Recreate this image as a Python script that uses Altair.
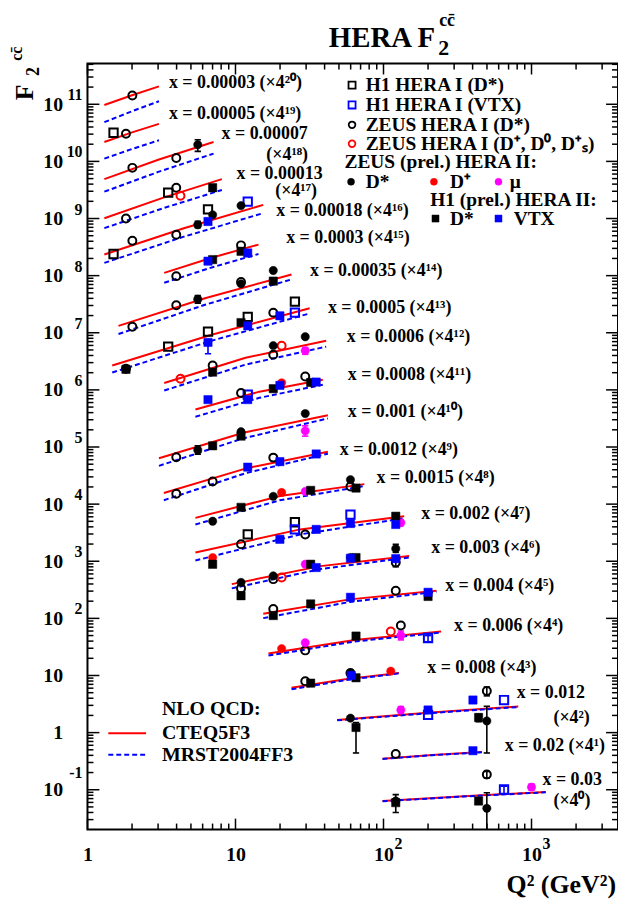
import altair as alt
import pandas as pd

# ---------------- data ----------------
bin_x = ["0.00003", "0.00005", "0.00007", "0.00013", "0.00018", "0.0003", "0.00035",
         "0.0005", "0.0006", "0.0008", "0.001", "0.0012", "0.0015", "0.002", "0.003",
         "0.004", "0.006", "0.008", "0.012", "0.02", "0.03"]
bin_pow = [20, 19, 18, 17, 16, 15, 14, 13, 12, 11, 10, 9, 8, 7, 6, 5, 4, 3, 2, 1, 0]

# NLO QCD curves (already multiplied by 4^i), three Q2 nodes per x bin
theory_q2 = [
    [1.30, 2.0, 3.04], [1.30, 2.0, 3.04], [1.30, 3.04, 7.11], [1.30, 3.26, 8.09],
    [1.30, 4.48, 15.4], [3.30, 6.9, 14.3], [1.62, 6.22, 23.9], [1.47, 6.8, 31.7],
    [3.30, 11.7, 41.0], [5.36, 14.5, 38.9], [3.04, 11.3, 42.1], [3.28, 11.8, 42.1],
    [5.36, 19.95, 74.2], [5.36, 27.3, 138], [9.44, 37.5, 149], [15.4, 59.3, 228],
    [16.7, 63.9, 245], [23.9, 55.2, 127], [48.6, 199, 814], [98.5, 213, 462],
    [98.5, 350, 1248]]
cteq_f = [
    [9.7e10, 1.44e11, 2.06e11], [2.18e10, 3.22e10, 4.54e10], [4.9e9, 1.08e10, 2.18e10],
    [1.01e9, 2.32e9, 4.9e9], [2.34e8, 6.76e8, 1.73e9], [1.12e8, 2.06e8, 3.49e8],
    [1.32e7, 4.03e7, 1.05e8], [2.67e6, 9.16e6, 2.69e7], [1.32e6, 3.65e6, 7.26e6],
    [4.53e5, 9.31e5, 1.50e6], [6.35e4, 1.78e5, 3.61e5], [1.57e4, 4.23e4, 8.28e4],
    [5.75e3, 1.39e4, 2.24e4], [1.42e3, 3.61e3, 6.14e3], [398, 822, 1236],
    [120, 215, 304], [24.2, 41.8, 58.9], [6.11, 8.59, 11.1], [1.67, 2.23, 2.86],
    [0.350, 0.406, 0.458], [0.0635, 0.0771, 0.0912]]
mrst_f = [
    [4.87e10, 7.55e10, 1.13e11], [1.12e10, 1.65e10, 2.34e10], [2.95e9, 6.61e9, 1.37e10],
    [6.78e8, 1.52e9, 3.16e9], [1.67e8, 4.82e8, 1.24e9], [7.5e7, 1.39e8, 2.39e8],
    [9.5e6, 3.09e7, 8.59e7], [2.01e6, 7.18e6, 2.18e7], [9.73e5, 2.77e6, 5.71e6],
    [3.38e5, 7.26e5, 1.23e6], [4.68e4, 1.42e5, 3.16e5], [1.17e4, 3.50e4, 7.64e4],
    [4.40e3, 1.17e4, 2.07e4], [1.03e3, 2.95e3, 5.66e3], [335, 731, 1164],
    [101, 194, 292], [22.3, 39.4, 56.6], [5.75, 8.26, 10.9], [1.64, 2.18, 2.80],
    [0.346, 0.402, 0.453], [0.0628, 0.0762, 0.0902]]

# measurements (F2cc x 4^i)
h1i_dstar_q2 = [1.5, 3.51, 1.5, 6.52, 3.51, 6.52, 12.1, 25.2, 12.1, 25.2]
h1i_dstar_f = [3.17e10, 2.83e9, 2.39e8, 1.45e9, 5.71e6, 1.05e7, 1.90e7, 3.50e7, 2.95e3, 4.82e3]

h1i_vtx_q2 = [12.1, 25.2, 12.1, 25.2, 59.8, 200, 200, 652, 652]
h1i_vtx_f = [1.98e9, 2.25e7, 8.26e5, 3.61e3, 6.56e3, 45.3, 2.04, 3.72, 0.101]

zeusi_dstar_q2 = [2.01, 1.82, 2.01, 3.98, 1.82, 3.98, 2.01, 3.98, 3.98, 10.9, 2.01, 3.98,
                  10.9, 1.82, 18.0, 7.01, 18.0, 10.9, 29.6, 3.98, 3.98, 7.01, 18.0, 59.8,
                  10.9, 29.6, 10.9, 18.0, 121, 18.0, 121, 29.6, 131, 29.6, 59.8, 499, 121, 499]
zeusi_dstar_f = [1.42e11, 3.04e10, 7.71e9, 1.15e10, 1.0e9, 3.46e9, 4.09e8, 5.21e8, 9.8e7,
                 3.39e8, 1.27e7, 3.03e7, 7.71e7, 2.34e6, 2.25e7, 2.67e6, 4.14e6, 8.79e5,
                 1.72e6, 6.62e4, 1.52e4, 2.49e4, 6.52e4, 2.04e4, 1.98e3, 2.95e3, 335, 486,
                 949, 146, 304, 27.5, 75.0, 7.96, 11.1, 5.33, 0.423, 0.1845]

zeusi_dpm_q2 = [4.25, 4.25, 20.5, 20.5, 112]
zeusi_dpm_f = [2.51e9, 1.57e6, 5.94e6, 521, 58.9]

zeusii_dstar_q2 = [5.56, 5.56, 7.01, 10.9, 5.56, 10.9, 18.0, 18.0, 29.6, 5.56, 10.9, 29.6,
                   7.01, 18.0, 59.8, 10.9, 18.0, 59.8, 121, 59.8, 59.8, 499, 121, 499]
zeusii_dstar_f = [1.96e10, 7.76e8, 1.16e9, 1.68e9, 3.86e7, 7.19e7, 1.23e8, 5.94e6, 8.51e6,
                  8.87e4, 1.85e5, 3.85e5, 5.02e3, 1.37e4, 2.67e4, 427, 555, 1.16e3, 1.66e3,
                  10.8, 1.79, 1.60, 0.0635, 0.0473]

zeusii_dplus_q2 = [20.5, 20.5, 7.01, 20.5, 112]
zeusii_dplus_f = [1.33e6, 1.60e4, 1.16e3, 29.5, 11.9]

zeusii_mu_q2 = [29.6, 29.6, 29.6, 131, 29.6, 29.6, 131, 131, 1000]
zeusii_mu_f = [4.86e6, 1.92e5, 1.67e4, 4.71e3, 887, 37.5, 50.2, 2.49, 0.111]

h1ii_dstar_q2 = [7.01, 7.01, 10.9, 18.0, 1.82, 10.9, 7.01, 18.0, 32.2, 7.01, 10.9, 10.9,
                 32.2, 65.2, 7.01, 121, 10.9, 32.2, 65.2, 18.0, 32.2, 200, 65.2, 32.2,
                 65.2, 65.2, 439, 121, 439]
h1ii_dstar_f = [3.46e9, 1.91e8, 2.67e8, 8.02e7, 2.29e6, 1.51e7, 2.04e6, 1.05e6, 1.35e6,
                1.05e5, 1.55e5, 8.79e3, 1.74e4, 1.91e4, 887, 6.14e3, 249, 887, 1.16e3,
                112, 179, 242, 49.0, 7.35, 9.12, 1.23, 1.84, 0.0594, 0.0635]

h1ii_vtx_q2 = [6.52, 6.52, 12.1, 6.52, 12.1, 19.95, 6.52, 12.1, 19.95, 35.1, 12.1, 19.95,
               35.1, 19.95, 35.1, 59.8, 121, 35.1, 59.8, 121, 59.8, 200, 60.5, 200, 402, 402]
h1ii_vtx_f = [8.87e8, 1.79e8, 2.49e8, 6.78e6, 1.32e7, 1.98e7, 6.76e5, 6.76e5, 1.20e6,
              1.37e6, 4.44e4, 5.55e4, 7.55e4, 2.42e3, 3.61e3, 4.58e3, 4.40e3, 776,
              1.13e3, 1.11e3, 234, 286, 10.0, 2.49, 3.72, 0.482]

# vertical error bars that are visible outside the markers
err_q2 = [5.56, 5.56, 5.56, 6.52, 29.6, 5.56, 29.6, 131, 121, 121, 131, 200, 65.2, 131,
          439, 499, 499, 121, 499, 499, 652, 1000]
err_lo = [1.5e10, 6.9e8, 3.3e7, 4.3e6, 4.2e6, 7.5e4, 1.55e5, 4.2e3, 1.43e3, 800, 42, 39,
          0.44, 2.2, 1.55, 0.44, 4.4, 0.040, 0.015, 0.16, 0.085, 0.098]
err_hi = [2.4e10, 8.9e8, 4.5e7, 7.2e6, 5.5e6, 1.05e5, 2.35e5, 5.3e3, 1.98e3, 1.1e3, 60, 50,
          1.5, 2.85, 2.1, 2.89, 6.3, 0.082, 0.0887, 0.21, 0.115, 0.126]
err_set = ["zd", "zd", "zd", "hv", "mu", "zd", "mu", "mu", "zd", "zi", "mu", "iv",
           "hd", "mu", "hd", "zd", "zi", "zd", "zd", "zi", "iv", "mu"]

# ---------------- layout / style ----------------
W, H = 534, 771
QMIN, QMAX = 1.0, 3840.0
FMIN, FMAX = 0.0201, 5.16e11
FONT = "Liberation Serif"
RED, BLUE, MAG, BLACK = "#ff0000", "#0000ff", "#ff00ff", "#000000"

xscale = alt.Scale(type="log", domain=[QMIN, QMAX], nice=False)
yscale = alt.Scale(type="log", domain=[FMIN, FMAX], nice=False)

x_axis = alt.Axis(values=[1, 10, 100, 1000], labelExpr="datum.value == 1 ? '1' : '10'",
                  ticks=False, tickSize=0, domain=False, grid=False, labelFont=FONT,
                  labelFontWeight="bold", labelFontSize=20, labelPadding=15,
                  labelColor="black", labelOverlap=False, labelFlush=False, title=None)
y_axis = alt.Axis(values=[10.0 ** k for k in range(-1, 12)],
                  labelExpr="round(log(datum.value)/LN10) == 0 ? '1' : '10'",
                  ticks=False, tickSize=0, domain=False, grid=False, labelFont=FONT,
                  labelFontWeight="bold", labelFontSize=20, labelPadding=25,
                  labelColor="black", labelOverlap=False, labelFlush=False, title=None)


def X(field="q2"):
    return alt.X(f"{field}:Q", scale=xscale, axis=x_axis)


def Y(field="f"):
    return alt.Y(f"{field}:Q", scale=yscale, axis=y_axis)


one = pd.DataFrame({"a": [0]})


def txt(text, rx, ry, size, align="left", baseline="middle", weight="bold", angle=0, color=BLACK):
    return alt.Chart(one).mark_text(text=text, font=FONT, fontSize=size, fontWeight=weight,
                                    align=align, baseline=baseline, angle=angle,
                                    color=color).encode(x=alt.value(rx), y=alt.value(ry))


layers = []

# ---- theory curves ----
rows = []
for i in range(len(bin_x)):
    for j in range(3):
        rows.append({"bin": i, "model": "CTEQ5F3", "q2": theory_q2[i][j], "f": cteq_f[i][j]})
        rows.append({"bin": i, "model": "MRST2004FF3", "q2": theory_q2[i][j], "f": mrst_f[i][j]})
th = pd.DataFrame(rows)
layers.append(alt.Chart(th[th.model == "CTEQ5F3"]).mark_line(color=RED, strokeWidth=2, clip=True)
              .encode(x=X(), y=Y(), detail="bin:N", order="q2:Q"))
layers.append(alt.Chart(th[th.model == "MRST2004FF3"]).mark_line(color=BLUE, strokeWidth=2,
                                                                  strokeDash=[5, 3], clip=True)
              .encode(x=X(), y=Y(), detail="bin:N", order="q2:Q"))

# ---- ticks (inward, all four sides) ----
ymaj = [10.0 ** k for k in range(-1, 12)]
ymin = [m * 10.0 ** k for k in range(-2, 12) for m in range(2, 10) if FMIN <= m * 10.0 ** k <= FMAX]
xmaj = [1, 10, 100, 1000]
xmin = [m * 10 ** k for k in range(0, 4) for m in range(2, 10) if m * 10 ** k <= QMAX]
for vals, ln in ((ymaj, 12), (ymin, 6)):
    d = pd.DataFrame({"v": vals})
    layers.append(alt.Chart(d).mark_rule(color=BLACK, strokeWidth=1.5)
                  .encode(y=Y("v"), x=alt.value(0), x2=alt.value(ln)))
    layers.append(alt.Chart(d).mark_rule(color=BLACK, strokeWidth=1.5)
                  .encode(y=Y("v"), x=alt.value(W - ln), x2=alt.value(W)))
for vals, ln in ((xmaj, 11), (xmin, 6)):
    d = pd.DataFrame({"v": vals})
    layers.append(alt.Chart(d).mark_rule(color=BLACK, strokeWidth=1.5)
                  .encode(x=X("v"), y=alt.value(H - ln), y2=alt.value(H)))
    layers.append(alt.Chart(d).mark_rule(color=BLACK, strokeWidth=1.5)
                  .encode(x=X("v"), y=alt.value(0), y2=alt.value(ln)))

# ---- axis label exponents ----
yexp = pd.DataFrame({"v": [10.0 ** k for k in range(2, 12)], "t": [str(k) for k in range(2, 12)]})
layers.append(alt.Chart(yexp).mark_text(font=FONT, fontSize=16, fontWeight="bold", align="right",
                                        dy=-9, color=BLACK)
              .encode(y=Y("v"), x=alt.value(-5), text="t:N"))
yexp2 = pd.DataFrame({"v": [0.1], "t": ["-1"]})
layers.append(alt.Chart(yexp2).mark_text(font=FONT, fontSize=16, fontWeight="bold", align="right",
                                         dy=-17, color=BLACK)
              .encode(y=Y("v"), x=alt.value(-5), text="t:N"))
xexp = pd.DataFrame({"v": [100, 1000], "t": ["2", "3"]})
layers.append(alt.Chart(xexp).mark_text(font=FONT, fontSize=16, fontWeight="bold", align="left",
                                        dx=11, color=BLACK)
              .encode(x=X("v"), y=alt.value(786), text="t:N"))

# ---- error bars ----
col_map = {"zd": BLACK, "zi": BLACK, "hd": BLACK, "hv": BLUE, "iv": BLUE, "mu": MAG}
ed = pd.DataFrame({"q2": err_q2, "lo": err_lo, "hi": err_hi,
                   "c": [col_map[s] for s in err_set]})
layers.append(alt.Chart(ed).mark_rule(strokeWidth=1.6, clip=True)
              .encode(x=X(), y=Y("lo"), y2="hi:Q", color=alt.Color("c:N", scale=None)))
for fld in ("lo", "hi"):
    layers.append(alt.Chart(ed).mark_point(shape="stroke", size=40, strokeWidth=1.6, opacity=1,
                                           clip=True)
                  .encode(x=X(), y=Y(fld), color=alt.Color("c:N", scale=None)))


# ---- data points ----
def pts(q2, f, shape, color, filled, size):
    d = pd.DataFrame({"q2": q2, "f": f})
    kw = dict(shape=shape, size=size, opacity=1, clip=True)
    if filled:
        kw.update(filled=True, fill=color, stroke=color, strokeWidth=0.5)
    else:
        kw.update(filled=False, stroke=color, strokeWidth=2)
    return alt.Chart(d).mark_point(**kw).encode(x=X(), y=Y())


layers.append(pts(h1i_dstar_q2, h1i_dstar_f, "square", BLACK, False, 70))
layers.append(pts(h1i_vtx_q2, h1i_vtx_f, "square", BLUE, False, 70))
layers.append(pts(zeusi_dstar_q2, zeusi_dstar_f, "circle", BLACK, False, 64))
layers.append(pts(zeusi_dpm_q2, zeusi_dpm_f, "circle", RED, False, 64))
layers.append(pts(zeusii_dstar_q2, zeusii_dstar_f, "circle", BLACK, True, 70))
layers.append(pts(zeusii_dplus_q2, zeusii_dplus_f, "circle", RED, True, 70))
layers.append(pts(zeusii_mu_q2, zeusii_mu_f, "circle", MAG, True, 70))
layers.append(pts(h1ii_dstar_q2, h1ii_dstar_f, "square", BLACK, True, 70))
layers.append(pts(h1ii_vtx_q2, h1ii_vtx_f, "square", BLUE, True, 70))

# ---- x-bin labels ----
SUP = str.maketrans("0123456789", "⁰¹²³⁴⁵⁶⁷⁸⁹")
lab_pos = {0: (82, 19.7), 1: (82, 50.7), 4: (190, 148), 5: (200, 175.7), 6: (224, 209),
           7: (242, 245.7), 8: (261, 275.7), 9: (262, 314), 10: (262, 350.7), 11: (254, 389),
           12: (291, 417.3), 13: (336, 453.3), 14: (346, 487.3), 15: (360, 525.7),
           16: (369, 565.7), 17: (342, 608.3), 19: (420, 687.3)}
two_line = {2: ((135, 70.7), (180, 92.3)), 3: ((150, 110.7), (189, 128)),
            18: ((432, 634), (469, 659)), 20: ((458, 720.7), (469, 742.3))}
LS = 18
for i in range(len(bin_x)):
    pw = "(×4" + str(bin_pow[i]).translate(SUP) + ")"
    if i in two_line:
        (ax, ay), (bx, by) = two_line[i]
        layers.append(txt("x = " + bin_x[i], ax, ay, LS))
        layers.append(txt(pw, bx, by, LS))
    else:
        rx, ry = lab_pos[i]
        layers.append(txt("x = " + bin_x[i] + " " + pw, rx, ry, LS))


# ---- legend (top right) ----
def lg_mark(rx, ry, shape, color, filled, size):
    kw = dict(shape=shape, size=size, opacity=1)
    if filled:
        kw.update(filled=True, fill=color, stroke=color, strokeWidth=0.5)
    else:
        kw.update(filled=False, stroke=color, strokeWidth=1.8)
    return alt.Chart(one).mark_point(**kw).encode(x=alt.value(rx), y=alt.value(ry))


LG = 19.5
layers += [
    lg_mark(266.3, 21.7, "square", BLACK, False, 50), txt("H1 HERA I (D*)", 280, 21.7, LG),
    lg_mark(266.3, 41.7, "square", BLUE, False, 50), txt("H1 HERA I (VTX)", 280, 41.7, LG),
    lg_mark(266.3, 61.7, "circle", BLACK, False, 45), txt("ZEUS HERA I (D*)", 280, 61.7, LG),
    lg_mark(266.3, 80.7, "circle", RED, False, 45), txt("ZEUS HERA I (D⁺, D⁰, D⁺ₛ)", 280, 80.7, LG),
    txt("ZEUS (prel.) HERA II:", 258.7, 99.5, LG),
    lg_mark(265.3, 119, "circle", BLACK, True, 50), txt("D*", 280, 119, LG),
    lg_mark(348.7, 119, "circle", RED, True, 50), txt("D⁺", 365, 119, LG),
    lg_mark(413.7, 119, "circle", MAG, True, 50), txt("μ", 425, 119, LG),
    txt("H1 (prel.) HERA II:", 345, 137.5, LG),
    lg_mark(350.3, 156, "square", BLACK, True, 50), txt("D*", 365, 156, LG),
    lg_mark(413.7, 156, "square", BLUE, True, 50), txt("VTX", 429, 156, LG),
]

# ---- legend (bottom left) ----
layers += [
    txt("NLO QCD:", 75, 649.7, 20),
    alt.Chart(one).mark_rule(color=RED, strokeWidth=2).encode(x=alt.value(21), x2=alt.value(59), y=alt.value(674)),
    txt("CTEQ5F3", 75, 674, 20),
    alt.Chart(one).mark_rule(color=BLUE, strokeWidth=2, strokeDash=[5, 3]).encode(x=alt.value(21), x2=alt.value(59), y=alt.value(695.7)),
    txt("MRST2004FF3", 75, 695.7, 20),
]

# ---- titles ----
layers += [
    txt("HERA F", 350, -17, 29, align="right", baseline="alphabetic"),
    txt("2", 353, -9, 22, baseline="alphabetic"),
    txt("cc\u0304", 354, -38, 18, baseline="alphabetic"),
    txt("F", -63, 29, 26, align="center", angle=270),
    txt("2", -54, 8, 18, align="center", angle=270),
    txt("cc\u0304", -71, -10, 16, align="center", angle=270),
    txt("Q² (GeV²)", 532, 835, 26, align="right", baseline="alphabetic"),
]

chart = alt.layer(*layers).properties(
    width=W, height=H, background="white",
    padding={"left": 80, "top": 53, "right": 0, "bottom": 69},
    autosize=alt.AutoSizeParams(type="none"),
).configure_view(stroke="black", strokeWidth=2)

chart.save("out.html", embed_options={"renderer": "svg", "actions": False})
